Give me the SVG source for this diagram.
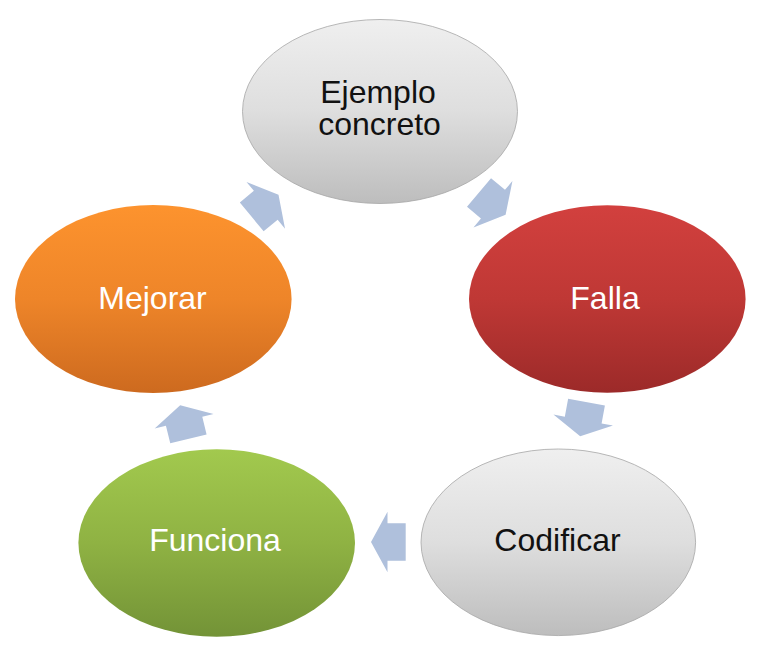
<svg xmlns="http://www.w3.org/2000/svg" width="769" height="651" viewBox="0 0 769 651">
  <defs>
    <linearGradient id="gGrey" x1="0" y1="0" x2="0" y2="1">
      <stop offset="0" stop-color="#efefef"/>
      <stop offset="0.5" stop-color="#dedede"/>
      <stop offset="1" stop-color="#bdbdbd"/>
    </linearGradient>
    <linearGradient id="gRed" x1="0" y1="0" x2="0" y2="1">
      <stop offset="0" stop-color="#d2403e"/>
      <stop offset="0.5" stop-color="#bf3835"/>
      <stop offset="1" stop-color="#9c2a29"/>
    </linearGradient>
    <linearGradient id="gOrange" x1="0" y1="0" x2="0" y2="1">
      <stop offset="0" stop-color="#fd932e"/>
      <stop offset="0.5" stop-color="#ee8529"/>
      <stop offset="1" stop-color="#cd6a1f"/>
    </linearGradient>
    <linearGradient id="gGreen" x1="0" y1="0" x2="0" y2="1">
      <stop offset="0" stop-color="#a2c94e"/>
      <stop offset="0.5" stop-color="#8fb243"/>
      <stop offset="1" stop-color="#739337"/>
    </linearGradient>
    <path id="arrow" d="M0,0 L-16.5,-30.3 L-16.5,-18.7 L-34.7,-18.7 L-34.7,18.7 L-16.5,18.7 L-16.5,30.3 Z"/>
  </defs>
  <style>
    .grey { fill: url(#gGrey); stroke: #a6a6a6; stroke-width: 0.8; }
    .red { fill: url(#gRed); }
    .orange { fill: url(#gOrange); }
    .green { fill: url(#gGreen); }
    .lbl { font-family: "Liberation Sans", Arial, sans-serif; font-size: 32px; text-anchor: middle; }
    .dark { fill: #111111; }
    .light { fill: #ffffff; }
    .conn use { fill: #afc0dc; }
  </style>
  <rect width="769" height="651" fill="#ffffff"/>

  <g id="connectors" class="conn">
    <use href="#arrow" transform="translate(278.5,194.8) rotate(-39.5)"/>
    <use href="#arrow" transform="translate(505.6,214.8) rotate(40)"/>
    <use href="#arrow" transform="translate(580.2,436.3) rotate(100.5)"/>
    <use href="#arrow" transform="translate(371,542) rotate(180)"/>
    <use href="#arrow" transform="translate(180.2,405.2) rotate(-103.7)"/>
  </g>

  <g id="ejemplo">
    <ellipse class="grey" cx="380" cy="111.5" rx="137.5" ry="92"/>
    <text class="lbl dark" x="378" y="102.7">Ejemplo</text>
    <text class="lbl dark" x="379.5" y="135.3">concreto</text>
  </g>
  <g id="falla">
    <ellipse class="red" cx="607.3" cy="299" rx="138.3" ry="93.8"/>
    <text class="lbl light" x="605" y="309.3">Falla</text>
  </g>
  <g id="codificar">
    <ellipse class="grey" cx="558.3" cy="542.3" rx="137.3" ry="93.3"/>
    <text class="lbl dark" x="557.5" y="551">Codificar</text>
  </g>
  <g id="funciona">
    <ellipse class="green" cx="216.7" cy="543" rx="138.3" ry="93.7"/>
    <text class="lbl light" x="215" y="551">Funciona</text>
  </g>
  <g id="mejorar">
    <ellipse class="orange" cx="153.3" cy="299" rx="138.3" ry="94"/>
    <text class="lbl light" x="152.5" y="309">Mejorar</text>
  </g>
</svg>
